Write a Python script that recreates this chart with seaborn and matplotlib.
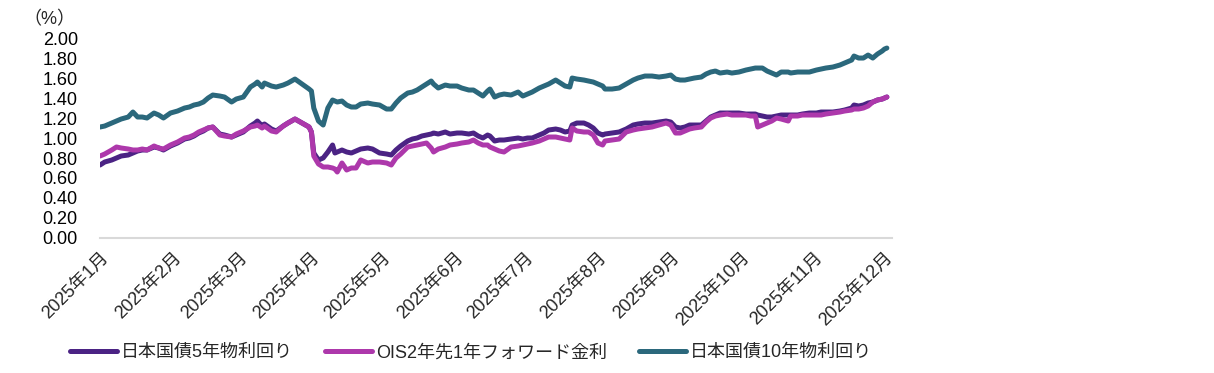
import pandas as pd
import numpy as np
import matplotlib
matplotlib.use("Agg")
import matplotlib.pyplot as plt
import matplotlib.dates as mdates
import seaborn as sns

# Daily-ish readings of the three rates (%)
dates = [
    "2025-01-01", "2025-01-03", "2025-01-06", "2025-01-08", "2025-01-10", "2025-01-13", "2025-01-15",
    "2025-01-17", "2025-01-19", "2025-01-21", "2025-01-24", "2025-01-26", "2025-01-28", "2025-01-31",
    "2025-02-03", "2025-02-06", "2025-02-08", "2025-02-10", "2025-02-12", "2025-02-14", "2025-02-16",
    "2025-02-18", "2025-02-21", "2025-02-23", "2025-02-26", "2025-02-28",
    "2025-03-03", "2025-03-06", "2025-03-08", "2025-03-09", "2025-03-11", "2025-03-12", "2025-03-15",
    "2025-03-17", "2025-03-20", "2025-03-22", "2025-03-25", "2025-03-28", "2025-03-31",
    "2025-04-01", "2025-04-02", "2025-04-04", "2025-04-06", "2025-04-08", "2025-04-10", "2025-04-11",
    "2025-04-12", "2025-04-14", "2025-04-16", "2025-04-18", "2025-04-20", "2025-04-22", "2025-04-25",
    "2025-04-27", "2025-04-30",
    "2025-05-03", "2025-05-05", "2025-05-07", "2025-05-09", "2025-05-12", "2025-05-14", "2025-05-16",
    "2025-05-18", "2025-05-20", "2025-05-22", "2025-05-23", "2025-05-25", "2025-05-28", "2025-05-30",
    "2025-06-02", "2025-06-04", "2025-06-07", "2025-06-09", "2025-06-11", "2025-06-13", "2025-06-15",
    "2025-06-16", "2025-06-18", "2025-06-20", "2025-06-22", "2025-06-25", "2025-06-28", "2025-06-30",
    "2025-07-02", "2025-07-04", "2025-07-07", "2025-07-09", "2025-07-11", "2025-07-14", "2025-07-16",
    "2025-07-18", "2025-07-20", "2025-07-21", "2025-07-23", "2025-07-26", "2025-07-28", "2025-07-30",
    "2025-08-01", "2025-08-03", "2025-08-04", "2025-08-07", "2025-08-10", "2025-08-13", "2025-08-16",
    "2025-08-18", "2025-08-21", "2025-08-24", "2025-08-27", "2025-08-30",
    "2025-09-01", "2025-09-03", "2025-09-05", "2025-09-07", "2025-09-09", "2025-09-11", "2025-09-14",
    "2025-09-16", "2025-09-18", "2025-09-20", "2025-09-22", "2025-09-25", "2025-09-27", "2025-09-30",
    "2025-10-03", "2025-10-05", "2025-10-07", "2025-10-08", "2025-10-10", "2025-10-12", "2025-10-14",
    "2025-10-16", "2025-10-18", "2025-10-21", "2025-10-22", "2025-10-25", "2025-10-27", "2025-10-30",
    "2025-11-02", "2025-11-04", "2025-11-06", "2025-11-09", "2025-11-12", "2025-11-14", "2025-11-17",
    "2025-11-18", "2025-11-20", "2025-11-22", "2025-11-24", "2025-11-26", "2025-11-28", "2025-11-30",
    "2025-12-01", "2025-12-02",
]

jgb10 = [
    1.11, 1.12, 1.15, 1.17, 1.19, 1.21, 1.26, 1.21, 1.21, 1.20, 1.25, 1.23, 1.20, 1.25,
    1.27, 1.30, 1.31, 1.33, 1.34, 1.36, 1.40, 1.43, 1.42, 1.41, 1.36, 1.39,
    1.41, 1.51, 1.54, 1.56, 1.51, 1.55, 1.52, 1.51, 1.53, 1.55, 1.59, 1.54, 1.49,
    1.47, 1.30, 1.17, 1.13, 1.30, 1.38, 1.37, 1.36, 1.37, 1.33, 1.31, 1.31, 1.34, 1.35, 1.34, 1.33,
    1.29, 1.29, 1.35, 1.40, 1.45, 1.46, 1.48, 1.51, 1.54, 1.57, 1.54, 1.50, 1.53, 1.52,
    1.52, 1.50, 1.48, 1.48, 1.45, 1.42, 1.47, 1.49, 1.41, 1.43, 1.44, 1.43, 1.46, 1.42,
    1.44, 1.46, 1.50, 1.52, 1.54, 1.58, 1.55, 1.52, 1.51, 1.60, 1.59, 1.58, 1.57, 1.56,
    1.54, 1.52, 1.49, 1.49, 1.50, 1.54, 1.58, 1.60, 1.62, 1.62, 1.61, 1.62,
    1.63, 1.59, 1.58, 1.58, 1.59, 1.60, 1.61, 1.64, 1.66, 1.67, 1.65, 1.66, 1.65, 1.66,
    1.68, 1.69, 1.70, 1.70, 1.70, 1.67, 1.65, 1.63, 1.66, 1.66, 1.65, 1.66, 1.66, 1.66,
    1.68, 1.69, 1.70, 1.71, 1.73, 1.75, 1.78, 1.82, 1.80, 1.80, 1.83, 1.80, 1.84, 1.87,
    1.89, 1.90,
]

jgb5 = [
    0.73, 0.76, 0.78, 0.80, 0.82, 0.83, 0.85, 0.87, 0.88, 0.88, 0.91, 0.90, 0.88, 0.92,
    0.95, 0.99, 1.00, 1.02, 1.05, 1.07, 1.10, 1.11, 1.04, 1.03, 1.01, 1.03,
    1.06, 1.12, 1.15, 1.17, 1.12, 1.14, 1.09, 1.07, 1.12, 1.15, 1.19, 1.15, 1.11,
    1.06, 0.85, 0.78, 0.80, 0.86, 0.93, 0.85, 0.86, 0.88, 0.86, 0.85, 0.87, 0.89, 0.90, 0.89, 0.85,
    0.84, 0.83, 0.88, 0.92, 0.97, 0.99, 1.00, 1.02, 1.03, 1.04, 1.05, 1.04, 1.06, 1.04,
    1.05, 1.05, 1.04, 1.05, 1.02, 1.00, 1.03, 1.02, 0.97, 0.98, 0.98, 0.99, 1.00, 0.99,
    1.00, 1.00, 1.03, 1.05, 1.08, 1.09, 1.08, 1.06, 1.07, 1.13, 1.15, 1.15, 1.13, 1.10,
    1.05, 1.03, 1.04, 1.05, 1.06, 1.09, 1.13, 1.14, 1.15, 1.15, 1.16, 1.17,
    1.16, 1.11, 1.10, 1.11, 1.13, 1.13, 1.13, 1.17, 1.21, 1.23, 1.25, 1.25, 1.25, 1.25,
    1.24, 1.24, 1.24, 1.23, 1.22, 1.21, 1.21, 1.22, 1.23, 1.23, 1.23, 1.23, 1.24, 1.25,
    1.25, 1.26, 1.26, 1.26, 1.27, 1.28, 1.30, 1.33, 1.32, 1.33, 1.35, 1.36, 1.38, 1.39,
    1.40, 1.41,
]

ois_fwd = [
    0.82, 0.84, 0.88, 0.91, 0.90, 0.89, 0.88, 0.88, 0.89, 0.88, 0.92, 0.90, 0.89, 0.93,
    0.96, 1.00, 1.01, 1.03, 1.06, 1.08, 1.10, 1.11, 1.03, 1.02, 1.01, 1.04,
    1.07, 1.11, 1.12, 1.13, 1.10, 1.12, 1.07, 1.06, 1.12, 1.15, 1.19, 1.15, 1.11,
    1.06, 0.82, 0.74, 0.71, 0.71, 0.70, 0.69, 0.66, 0.75, 0.68, 0.70, 0.70, 0.78, 0.75, 0.76, 0.76,
    0.75, 0.73, 0.80, 0.84, 0.91, 0.92, 0.93, 0.94, 0.95, 0.90, 0.86, 0.89, 0.91, 0.93,
    0.94, 0.95, 0.96, 0.98, 0.95, 0.93, 0.93, 0.91, 0.89, 0.87, 0.86, 0.91, 0.92, 0.93,
    0.94, 0.95, 0.97, 0.99, 1.01, 1.01, 1.00, 0.99, 0.98, 1.10, 1.07, 1.06, 1.06, 1.03,
    0.95, 0.93, 0.97, 0.98, 0.99, 1.06, 1.08, 1.09, 1.10, 1.11, 1.13, 1.15,
    1.13, 1.05, 1.05, 1.07, 1.09, 1.10, 1.11, 1.16, 1.20, 1.22, 1.23, 1.24, 1.23, 1.23,
    1.23, 1.22, 1.22, 1.11, 1.13, 1.15, 1.17, 1.20, 1.19, 1.17, 1.22, 1.22, 1.23, 1.23,
    1.23, 1.23, 1.24, 1.25, 1.26, 1.27, 1.28, 1.29, 1.29, 1.30, 1.32, 1.36, 1.38, 1.39,
    1.40, 1.41,
]

series_names = ["日本国債5年物利回り", "OIS2年先1年フォワード金利", "日本国債10年物利回り"]
colors = ["#4b2384", "#ad38ab", "#2b687c"]

df = pd.DataFrame({
    "date": pd.to_datetime(dates),
    series_names[0]: jgb5,
    series_names[1]: ois_fwd,
    series_names[2]: jgb10,
})
long_df = df.melt(id_vars="date", var_name="series", value_name="rate")

sns.set_style("white")
plt.rcParams["font.family"] = ["Liberation Sans", "Noto Sans CJK JP", "DejaVu Sans"]
fs = 13

fig = plt.figure(figsize=(12.14, 3.73), dpi=100)
ax = fig.add_axes([0.0824, 0.362, 0.652, 0.536])

sns.lineplot(data=long_df, x="date", y="rate", hue="series", hue_order=series_names,
             palette=dict(zip(series_names, colors)), linewidth=3.6, ax=ax, legend=False)

ax.set_xlim(pd.Timestamp("2025-01-01"), pd.Timestamp("2025-12-04"))
ax.set_ylim(0, 2.0)
ax.set_yticks(np.arange(0, 2.01, 0.2))
ax.yaxis.set_major_formatter(plt.FuncFormatter(lambda v, _: f"{v:.2f}"))
ax.tick_params(axis="y", length=0, pad=16, labelsize=fs, colors="black")

ax.xaxis.set_major_locator(mdates.MonthLocator())
ax.xaxis.set_major_formatter(plt.FuncFormatter(
    lambda v, _: f"{mdates.num2date(v).year}年{mdates.num2date(v).month}月"))
ax.tick_params(axis="x", length=5, width=1.2, color="#d9d9d9", labelsize=fs, pad=3)
for lbl in ax.get_xticklabels():
    lbl.set_rotation(45)
    lbl.set_ha("right")
    lbl.set_rotation_mode("anchor")

ax.set_xlabel("")
ax.set_ylabel("")
ax.grid(False)
for side in ["top", "right", "left"]:
    ax.spines[side].set_visible(False)
ax.spines["bottom"].set_color("#d9d9d9")
ax.spines["bottom"].set_linewidth(1.5)

fig.text(0.019, 0.948, "（%）", fontsize=fs, va="center", ha="left")

handles = [plt.Line2D([], [], color=c, linewidth=3.6, solid_capstyle="round") for c in colors]
fig.legend(handles, series_names, loc="center", bbox_to_anchor=(0.388, 0.054), ncol=3,
           frameon=False, fontsize=fs, handlelength=2.6, handletextpad=0.2,
           columnspacing=1.8)

fig.savefig("out.png", dpi=100)
